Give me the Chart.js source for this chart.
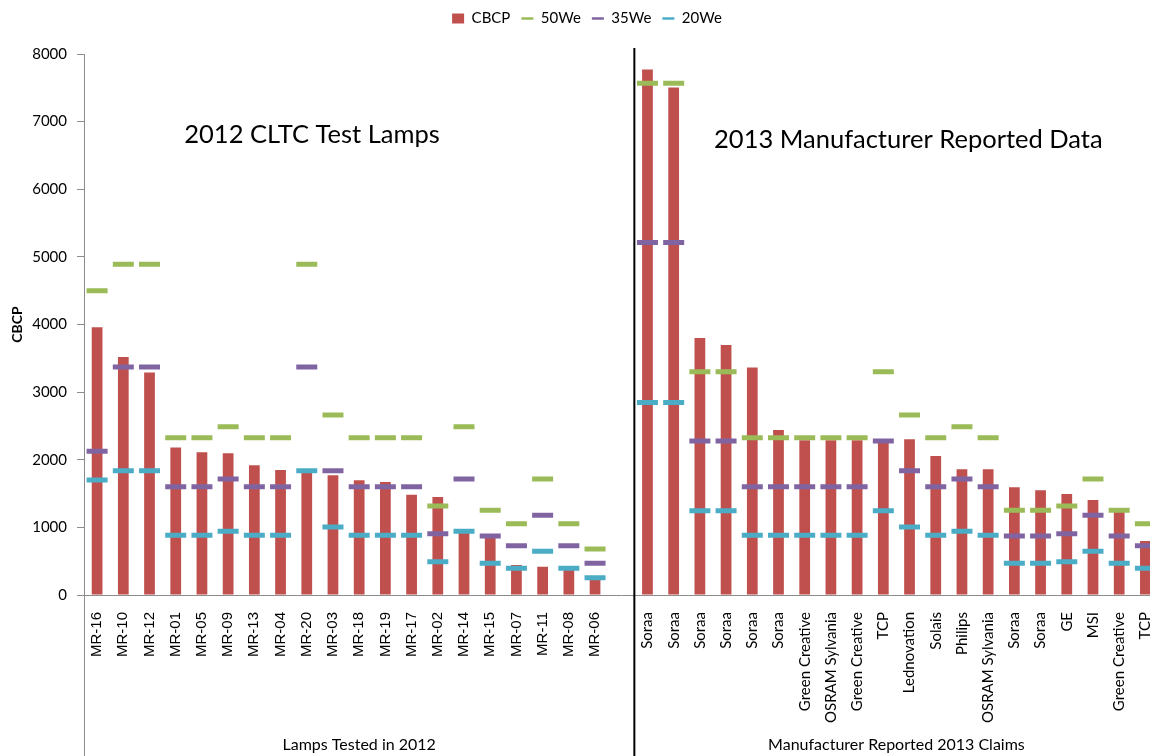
<!DOCTYPE html>
<html>
<head>
<meta charset="utf-8">
<script src="https://cdn.jsdelivr.net/npm/chart.js@4.4.1/dist/chart.umd.min.js"></script>
<style>
  html, body { margin: 0; padding: 0; background: #fff; overflow: hidden; }
  #wrap { width: 1174px; height: 756px; }
</style>
</head>
<body>
<div id="wrap"><canvas id="cbcp-chart" width="1174" height="756"></canvas></div>
<script>
// lamp names, 2012 test group and 2013 manufacturer claims
var lamps2012 = ['MR-16', 'MR-10', 'MR-12', 'MR-01', 'MR-05', 'MR-09', 'MR-13', 'MR-04', 'MR-20', 'MR-03',
                 'MR-18', 'MR-19', 'MR-17', 'MR-02', 'MR-14', 'MR-15', 'MR-07', 'MR-11', 'MR-08', 'MR-06'];
var claims2013 = ['Soraa', 'Soraa', 'Soraa', 'Soraa', 'Soraa', 'Soraa', 'Green Creative', 'OSRAM Sylvania',
                  'Green Creative', 'TCP', 'Lednovation', 'Solais', 'Philips', 'OSRAM Sylvania', 'Soraa', 'Soraa',
                  'GE', 'MSI', 'Green Creative', 'TCP'];
var groupNames = ['Lamps Tested in 2012', 'Manufacturer Reported 2013 Claims'];
var panelTitles = ['2012 CLTC Test Lamps', '2013 Manufacturer Reported Data'];

var cbcp2012 = [3960, 3520, 3290, 2180, 2110, 2095, 1917, 1848, 1820, 1770,
                1696, 1671, 1483, 1449, 920, 850, 444, 419, 370, 222];
var we50_2012 = [4500, 4890, 4890, 2327, 2327, 2489, 2327, 2327, 4890, 2662,
                 2327, 2327, 2327, 1316, 2489, 1252, 1055, 1715, 1055, 680];
var we35_2012 = [2125, 3372, 3372, 1602, 1602, 1715, 1602, 1602, 3372, 1838,
                 1602, 1602, 1602, 907, 1715, 872, 730, 1178, 730, 468];
var we20_2012 = [1700, 1838, 1838, 882, 882, 941, 882, 882, 1838, 1006,
                 882, 882, 882, 493, 941, 468, 394, 646, 394, 256];

var cbcp2013 = [7770, 7505, 3802, 3697, 3364, 2440, 2290, 2290, 2290, 2250,
                2302, 2055, 1858, 1858, 1592, 1548, 1494, 1405, 1232, 798];
var we50_2013 = [7568, 7568, 3300, 3300, 2327, 2327, 2327, 2327, 2327, 3300,
                 2662, 2327, 2489, 2327, 1252, 1252, 1316, 1715, 1252, 1055];
var we35_2013 = [5213, 5213, 2277, 2277, 1602, 1602, 1602, 1602, 1602, 2277,
                 1838, 1602, 1715, 1602, 872, 872, 907, 1178, 872, 730];
var we20_2013 = [2847, 2847, 1246, 1246, 882, 882, 882, 882, 882, 1246,
                 1006, 882, 941, 882, 468, 468, 493, 646, 468, 394];

var yTicks = [0, 1000, 2000, 3000, 4000, 5000, 6000, 7000, 8000];

// one empty slot separates the two groups
var labels = lamps2012.concat(['']).concat(claims2013);
function joined(a, b) { return a.concat([null]).concat(b); }

var calibri = 'Lato, "Open Sans", sans-serif';

function dash(label, color, values) {
    return {
        type: 'line',
        label: label,
        data: values,
        showLine: false,
        order: 0,
        pointStyle: 'line',
        pointRadius: 10.5,
        pointHoverRadius: 10.5,
        pointBorderWidth: 5,
        pointHoverBorderWidth: 5,
        borderColor: color,
        backgroundColor: color
    };
}

var decorations = {
    id: 'decorations',
    beforeLayout: function (chart) {
        // fixed legend band above the plot
        var lg = chart.legend;
        if (lg && !lg._bandPatched) {
            var fit = lg.fit;
            lg.fit = function () {
                fit.apply(this, arguments);
                this.height = 54;
            };
            lg._bandPatched = true;
        }
    },
    afterDraw: function (chart) {
        var ctx = chart.ctx;
        var area = chart.chartArea;
        var xs = chart.scales.x;
        var split = (xs.getPixelForValue(lamps2012.length) + xs.getPixelForValue(lamps2012.length + 1)) / 2;
        ctx.save();
        // grey continuation of the value axis below the category labels
        ctx.strokeStyle = '#8c8c8c';
        ctx.lineWidth = 1;
        ctx.beginPath();
        ctx.moveTo(area.left + 0.5, area.bottom);
        ctx.lineTo(area.left + 0.5, chart.height);
        ctx.stroke();
        // black divider between the two groups
        ctx.strokeStyle = '#000';
        ctx.lineWidth = 2;
        ctx.beginPath();
        ctx.moveTo(split, area.top - 6);
        ctx.lineTo(split, chart.height);
        ctx.stroke();

        ctx.fillStyle = '#000';
        ctx.textAlign = 'center';
        ctx.textBaseline = 'middle';
        ctx.font = '16px ' + calibri;
        ctx.fillText(groupNames[0], (area.left + split) / 2, chart.height - 11);
        ctx.fillText(groupNames[1], (split + area.right) / 2, chart.height - 11);

        ctx.font = '25.5px ' + calibri;
        ctx.fillText(panelTitles[0], area.left + 228, area.top + 81);
        ctx.fillText(panelTitles[1], split + 274, area.top + 86);
        ctx.restore();
    }
};

var ctx = document.getElementById('cbcp-chart').getContext('2d');
var chart = new Chart(ctx, {
    type: 'bar',
    data: {
        labels: labels,
        datasets: [
            {
                label: 'CBCP',
                data: joined(cbcp2012, cbcp2013),
                backgroundColor: '#C0504D',
                borderWidth: 0,
                order: 1,
                barPercentage: 0.41,
                categoryPercentage: 1
            },
            dash('50We', '#9BBB59', joined(we50_2012, we50_2013)),
            dash('35We', '#8064A2', joined(we35_2012, we35_2013)),
            dash('20We', '#4BACC6', joined(we20_2012, we20_2013))
        ]
    },
    options: {
        responsive: false,
        animation: false,
        devicePixelRatio: 1,
        layout: { padding: 0 },
        plugins: {
            tooltip: { enabled: false },
            legend: {
                position: 'top',
                labels: {
                    usePointStyle: true,
                    pointStyleWidth: 12,
                    boxWidth: 12,
                    boxHeight: 10,
                    padding: 11,
                    color: '#000',
                    font: { family: calibri, size: 15 },
                    sort: function (a, b) { return a.datasetIndex - b.datasetIndex; },
                    generateLabels: function (chart) {
                        var items = Chart.defaults.plugins.legend.labels.generateLabels(chart);
                        items.forEach(function (it) {
                            if (it.datasetIndex === 0) {
                                it.pointStyle = 'rect';
                                it.lineWidth = 0;
                            } else {
                                it.pointStyle = 'line';
                                it.lineWidth = 2.5;
                            }
                        });
                        return items;
                    }
                }
            }
        },
        scales: {
            x: {
                grid: { display: false },
                border: { display: true, color: '#8c8c8c', width: 1 },
                ticks: {
                    autoSkip: false,
                    minRotation: 90,
                    maxRotation: 90,
                    padding: 9,
                    color: '#000',
                    font: function (c) {
                        return c.index < lamps2012.length
                            ? { family: '"Liberation Sans", Arial, sans-serif', size: 15 }
                            : { family: calibri, size: 15 };
                    }
                },
                afterFit: function (scale) {
                    scale.height = 161;
                    scale.paddingLeft = 0;
                    scale.paddingRight = 0;
                }
            },
            y: {
                min: 0,
                max: 8000,
                afterBuildTicks: function (scale) {
                    scale.ticks = yTicks.map(function (v) { return { value: v }; });
                },
                grid: { drawOnChartArea: false, drawTicks: true, tickLength: 7, color: '#8c8c8c' },
                border: { display: true, color: '#8c8c8c', width: 1 },
                ticks: {
                    padding: 10,
                    color: '#000',
                    font: { family: calibri, size: 15 },
                    callback: function (v) { return String(v); }
                },
                title: {
                    display: true,
                    text: 'CBCP',
                    color: '#000',
                    font: { family: calibri, size: 14, weight: 'bold' },
                    padding: { top: 9, bottom: 0 }
                },
                afterFit: function (scale) {
                    scale.width = 84;
                    scale.paddingTop = 0;
                    scale.paddingBottom = 0;
                }
            }
        }
    },
    plugins: [decorations]
});
</script>
</body>
</html>
